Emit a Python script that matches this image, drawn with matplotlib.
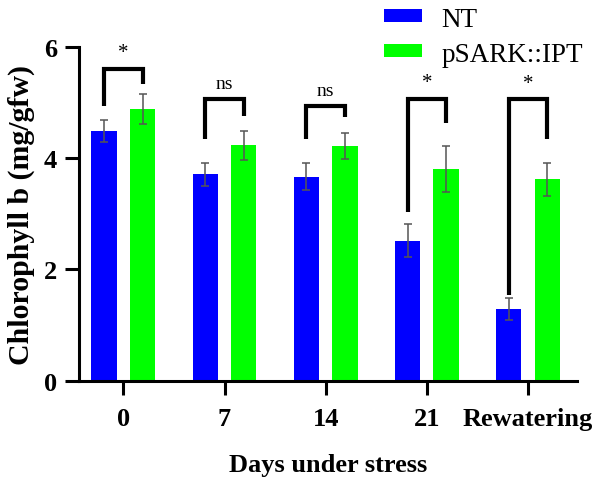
import numpy as np
import matplotlib.pyplot as plt

# chlorophyll b content, mean and error per day
days = ['0', '7', '14', '21', 'Rewatering']
nt_mean = [4.49, 3.71, 3.67, 2.52, 1.29]
nt_err = [0.20, 0.21, 0.24, 0.30, 0.20]
ipt_mean = [4.88, 4.23, 4.22, 3.80, 3.62]
ipt_err = [0.27, 0.26, 0.23, 0.41, 0.30]

# significance brackets: left leg bottom, bar top, right leg bottom
brk_left = [4.94, 4.34, 4.34, 3.04, 1.54]
brk_top = [5.60, 5.07, 4.94, 5.07, 5.06]
brk_right = [5.34, 4.75, 4.74, 4.64, 4.34]
sig = ['*', 'ns', 'ns', '*', '*']

plt.rcParams['font.family'] = ['Liberation Serif', 'DejaVu Serif']

fig = plt.figure(figsize=(6, 4.81), dpi=100)
ax = fig.add_axes([0.1317, 0.2064, 0.83, 0.694])

x = np.arange(len(days))
off = 0.19
w = 0.25
err_kw = dict(ecolor='#555555', elinewidth=1.1, capsize=3, capthick=1.1)
ax.bar(x - off, nt_mean, w, yerr=nt_err, color='#0000ff', label='NT', error_kw=err_kw)
ax.bar(x + off, ipt_mean, w, yerr=ipt_err, color='#00ff00', label='pSARK::IPT', error_kw=err_kw)

for i in range(len(days)):
    xl, xr = x[i] - off, x[i] + off
    ax.plot([xl, xl, xr, xr], [brk_left[i], brk_top[i], brk_top[i], brk_right[i]],
            color='black', lw=3, solid_joinstyle='miter', solid_capstyle='butt')
    ax.text(x[i], brk_top[i] + 0.12, sig[i], ha='center', va='bottom',
            fontsize=14 if sig[i] == 'ns' else 15)

ax.set_xlim(-0.438, 4.484)
ax.set_ylim(0, 6)
ax.set_yticks([0, 2, 4, 6])
ax.set_xticks(x)
ax.set_xticklabels(days)
for s in ['top', 'right']:
    ax.spines[s].set_visible(False)
for s in ['left', 'bottom']:
    ax.spines[s].set_linewidth(2.2)
ax.tick_params(width=2.2, length=10, labelsize=19)
ax.tick_params(axis='x', pad=9)
ax.tick_params(axis='y', pad=6)
for lab in ax.get_xticklabels() + ax.get_yticklabels():
    lab.set_fontweight('bold')

ax.set_ylabel('Chlorophyll b (mg/gfw)', fontsize=21.5, fontweight='bold', labelpad=6)
ax.set_xlabel('Days under stress', fontsize=19, fontweight='bold')
ax.xaxis.label.set_va('center')
ax.xaxis.set_label_coords(0.5, -0.25)

fig.legend(loc='upper left', bbox_to_anchor=(0.6, 1.035), frameon=False, fontsize=19.5,
           handlelength=1.4, handleheight=0.35, handletextpad=0.7, labelspacing=0.37)

fig.savefig('out.png', dpi=100)
